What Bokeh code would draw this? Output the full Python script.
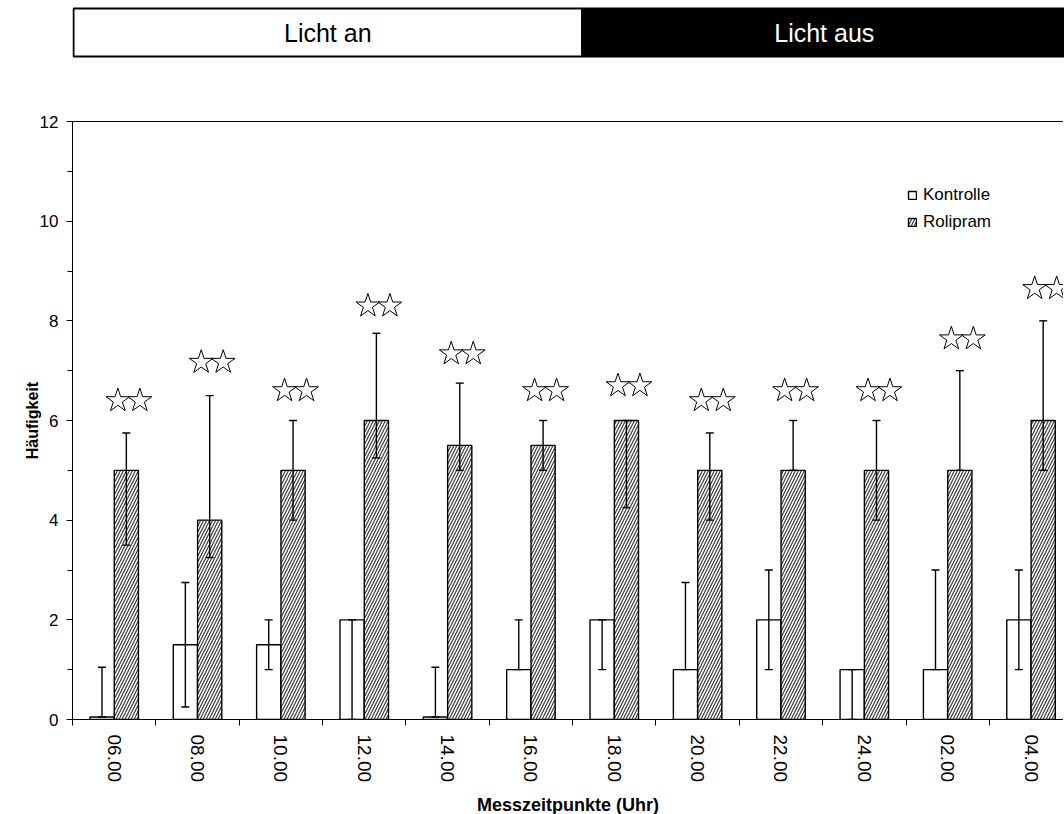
from bokeh.plotting import figure
from bokeh.models import (Range1d, FixedTicker, LinearAxis, Whisker, TeeHead,
                          ColumnDataSource)
from bokeh.layouts import column
from bokeh.core.properties import value
from bokeh.embed import file_html
from bokeh.resources import INLINE

# ---------------- data ----------------
cats = ["06.00", "08.00", "10.00", "12.00", "14.00", "16.00",
        "18.00", "20.00", "22.00", "24.00", "02.00", "04.00"]
kontrolle = [0.05, 1.5, 1.5, 2, 0.05, 1, 2, 1, 2, 1, 1, 2]
kontrolle_low = [0.05, 0.25, 1.0, 0, 0.05, 1, 1, 1, 1, 0, 1, 1]
kontrolle_high = [1.05, 2.75, 2.0, 2, 1.05, 2, 2, 2.75, 3, 1, 3, 3]
rolipram = [5, 4, 5, 6, 5.5, 5.5, 6, 5, 5, 5, 5, 6]
rolipram_low = [3.5, 3.25, 4, 5.25, 5, 5, 4.25, 4, 5, 4, 5, 5]
rolipram_high = [5.75, 6.5, 6, 7.75, 6.75, 6, 6, 5.75, 6, 6, 7, 8]
star_height = [6.4, 7.17, 6.6, 8.3, 7.34, 6.6, 6.7, 6.4, 6.6, 6.6, 7.64, 8.65]
phase_labels = ["Licht an", "Licht aus"]
y_ticks = [0, 2, 4, 6, 8, 10, 12]

FONT = "Liberation Sans"
n = len(cats)
centers = [i + 0.5 for i in range(n)]
bar_w = 0.29
off = 0.146
star_gap = 0.132

src = ColumnDataSource(dict(
    xk=[c - off for c in centers], xr=[c + off for c in centers],
    k=kontrolle, kl=kontrolle_low, ku=kontrolle_high,
    r=rolipram, rl=rolipram_low, ru=rolipram_high,
    xs1=[c + off + 0.03 - star_gap for c in centers],
    xs2=[c + off + 0.03 + star_gap for c in centers],
    ys=star_height,
))

# ---------------- banner (x in page pixels; frame is aligned with chart frame) ----------------
b = figure(width=1064, height=70, x_range=Range1d(72, 1063), y_range=Range1d(70, 0),
           output_backend="svg", toolbar_location=None, min_border=0,
           x_axis_location=None, y_axis_location=None, outline_line_color=None)
b.grid.visible = False
b.quad(left=[73, 581], right=[581, 1080], top=[8, 8], bottom=[56, 56],
       fill_color=["white", "black"], line_color="black", line_width=2)
b.text(x=[327, 823], y=[32, 32], text=phase_labels,
       text_color=["black", "white"], text_font=value(FONT),
       text_font_size="25px", text_align="center", text_baseline="middle")

# ---------------- main chart ----------------
p = figure(frame_width=991, frame_height=598,
           x_range=Range1d(0, 991 / 83.35), y_range=Range1d(0, 12),
           output_backend="svg", toolbar_location=None,
           min_border_left=72, min_border_right=0, min_border_top=51,
           min_border_bottom=95, outline_line_color=None)
p.grid.visible = False

p.vbar(x="xk", top="k", bottom=0, width=bar_w, source=src,
       fill_color="white", line_color="black", line_width=1.4,
       legend_label="Kontrolle")
p.vbar(x="xr", top="r", bottom=0, width=bar_w, source=src,
       fill_color="white", line_color="black", line_width=1.4,
       hatch_pattern="/", hatch_color="#3a3a3a", hatch_scale=6, hatch_weight=1.2,
       legend_label="Rolipram")

for base, lo, hi in (("xk", "kl", "ku"), ("xr", "rl", "ru")):
    w = Whisker(source=src, base=base, lower=lo, upper=hi, dimension="height",
                line_color="black", line_width=1.4, level="overlay",
                upper_head=TeeHead(size=8, line_width=1.4, line_color="black"),
                lower_head=TeeHead(size=8, line_width=1.4, line_color="black"))
    p.add_layout(w)

# significance stars (two per time point)
for xs in ("xs1", "xs2"):
    p.scatter(x=xs, y="ys", source=src, marker="star", size=25,
              fill_color="white", line_color="black", line_width=1)

# x axis
xa = p.xaxis[0]
xa.ticker = FixedTicker(ticks=centers, minor_ticks=list(range(n + 1)))
xa.major_label_overrides = {c: lab for c, lab in zip(centers, cats)}
xa.major_tick_line_color = None
xa.major_tick_out = 6
xa.major_tick_in = 0
xa.minor_tick_out = 6
xa.minor_tick_in = 0
xa.minor_tick_line_color = "black"
xa.major_label_orientation = "vertical"
xa.major_label_standoff = 9
xa.major_label_text_font = FONT
xa.major_label_text_font_size = "19px"
xa.major_label_text_color = "black"
xa.axis_line_color = "black"
xa.axis_label = "Messzeitpunkte (Uhr)"
xa.axis_label_text_font = FONT
xa.axis_label_text_font_style = "bold"
xa.axis_label_text_font_size = "18px"
xa.axis_label_text_color = "black"
xa.axis_label_standoff = 10

# y axis
ya = p.yaxis[0]
ya.ticker = FixedTicker(ticks=y_ticks, minor_ticks=list(range(13)))
ya.major_tick_out = 6
ya.major_tick_in = 0
ya.minor_tick_out = 5
ya.minor_tick_in = 0
ya.major_tick_line_color = "black"
ya.minor_tick_line_color = "black"
ya.major_label_standoff = 8
ya.major_label_text_font = FONT
ya.major_label_text_font_size = "17px"
ya.major_label_text_color = "black"
ya.axis_line_color = "black"
ya.axis_label = "Häufigkeit"
ya.axis_label_text_font = FONT
ya.axis_label_text_font_style = "bold"
ya.axis_label_text_font_size = "16px"
ya.axis_label_text_color = "black"
ya.axis_label_standoff = -4

# top border line
top = LinearAxis(ticker=FixedTicker(ticks=[]), major_label_text_font_size="0px",
                 major_tick_line_color=None, minor_tick_line_color=None,
                 axis_line_color="black")
p.add_layout(top, "above")

# legend
lg = p.legend[0]
lg.location = (835, 487)
lg.padding = 0
lg.margin = 0
lg.border_line_color = None
lg.background_fill_alpha = 0
lg.glyph_width = 10
lg.glyph_height = 10
lg.label_height = 17
lg.spacing = 7
lg.label_standoff = 6
lg.label_text_font = FONT
lg.label_text_font_size = "17px"
lg.label_text_color = "black"

layout = column(b, p, spacing=0)
open("out.html", "w").write(file_html(layout, INLINE))
